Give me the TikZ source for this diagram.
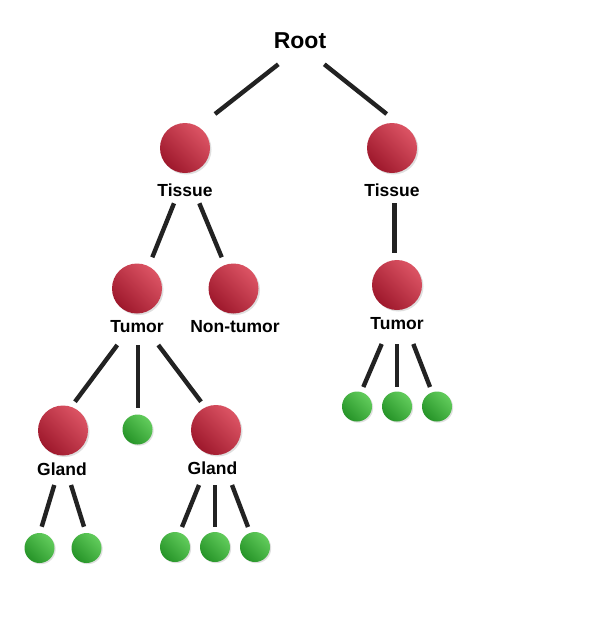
\documentclass[tikz,border=0pt]{standalone}
\usepackage{fontspec}
\setmainfont{Liberation Sans}
\usetikzlibrary{shadows}
\definecolor{redlight}{RGB}{220,84,100}
\definecolor{reddark}{RGB}{158,24,44}
\definecolor{grnlight}{RGB}{98,204,92}
\definecolor{grndark}{RGB}{38,148,40}
\definecolor{linec}{RGB}{34,34,34}
\tikzset{
  redball/.style={circle, minimum size=50pt, inner sep=0pt, top color=redlight, bottom color=reddark, shading angle=-45,
    drop shadow={shadow xshift=1.5pt, shadow yshift=-1.5pt, opacity=0.25}},
  greenball/.style={circle, minimum size=30pt, inner sep=0pt, top color=grnlight, bottom color=grndark, shading angle=-45,
    drop shadow={shadow xshift=1.2pt, shadow yshift=-1.2pt, opacity=0.25}},
  lbl/.style={font=\bfseries\fontsize{17.5}{17.5}\selectfont, inner sep=0pt},
  rootlbl/.style={font=\bfseries\fontsize{23}{23}\selectfont, inner sep=0pt},
  conn/.style={draw=linec, line width=4.4pt}
}
\newcommand{\conn}[6]{\draw[conn] ([shift={(#2,#3)}]#1.center) -- ([shift={(#5,#6)}]#4.center);}
\begin{document}
\begin{tikzpicture}[x=1pt,y=-1pt]
\fill[white] (0,0) rectangle (600,640);
\useasboundingbox (0,0) rectangle (600,640);
% labels
\node[rootlbl] (root) at (300,41) {Root};
\node[redball] (tL) at (185,148) {};
\node[lbl] (tLl) at (185,190) {Tissue};
\node[redball] (tR) at (392,148) {};
\node[lbl] (tRl) at (392,190) {Tissue};
\node[redball] (tuL) at (137,288.5) {};
\node[lbl] (tuLl) at (137,327) {Tumor};
\node[redball] (nt) at (233.5,288.5) {};
\node[lbl] (ntl) at (235,327) {Non-tumor};
\node[redball] (tuR) at (397,285) {};
\node[lbl] (tuRl) at (397,323.5) {Tumor};
\node[redball] (gL) at (63,430.5) {};
\node[lbl] (gLl) at (62,469.5) {Gland};
\node[greenball] (gm) at (137.5,429.5) {};
\node[redball] (gR) at (216,430) {};
\node[lbl] (gRl) at (212.5,468.5) {Gland};
\node[greenball] (a1) at (39.5,548) {};
\node[greenball] (a2) at (86.5,548) {};
\node[greenball] (b1) at (175,547) {};
\node[greenball] (b2) at (215,547) {};
\node[greenball] (b3) at (255,547) {};
\node[greenball] (c1) at (357,406.5) {};
\node[greenball] (c2) at (397,406.5) {};
\node[greenball] (c3) at (437,406.5) {};
% connectors
\conn{root}{-21.7}{23.3}{tL}{30}{-34}
\conn{root}{24.3}{23.3}{tR}{-5.3}{-34}
\conn{tLl}{-11}{13.3}{tuL}{15.3}{-31.2}
\conn{tLl}{14.3}{13.3}{nt}{-11.8}{-31.2}
\conn{tRl}{2.3}{13.3}{tuR}{-2.7}{-31.7}
\conn{tuLl}{-19.7}{18}{gL}{12}{-28.8}
\conn{tuLl}{0.7}{18}{gm}{0.2}{-21.5}
\conn{tuLl}{21.3}{18}{gR}{-15}{-28.3}
\conn{gLl}{-7.7}{15.5}{a1}{2.2}{-21.3}
\conn{gLl}{9}{15.5}{a2}{-2.5}{-21.3}
\conn{gRl}{-13.5}{16.5}{b1}{7}{-20}
\conn{gRl}{2.5}{16.5}{b2}{0}{-20}
\conn{gRl}{19.5}{16.5}{b3}{-7}{-20}
\conn{tuRl}{-15.3}{20.5}{c1}{6.3}{-19.5}
\conn{tuRl}{-0.3}{20.5}{c2}{-0.3}{-19.5}
\conn{tuRl}{16.3}{20.5}{c3}{-7}{-19.5}
\end{tikzpicture}
\end{document}
